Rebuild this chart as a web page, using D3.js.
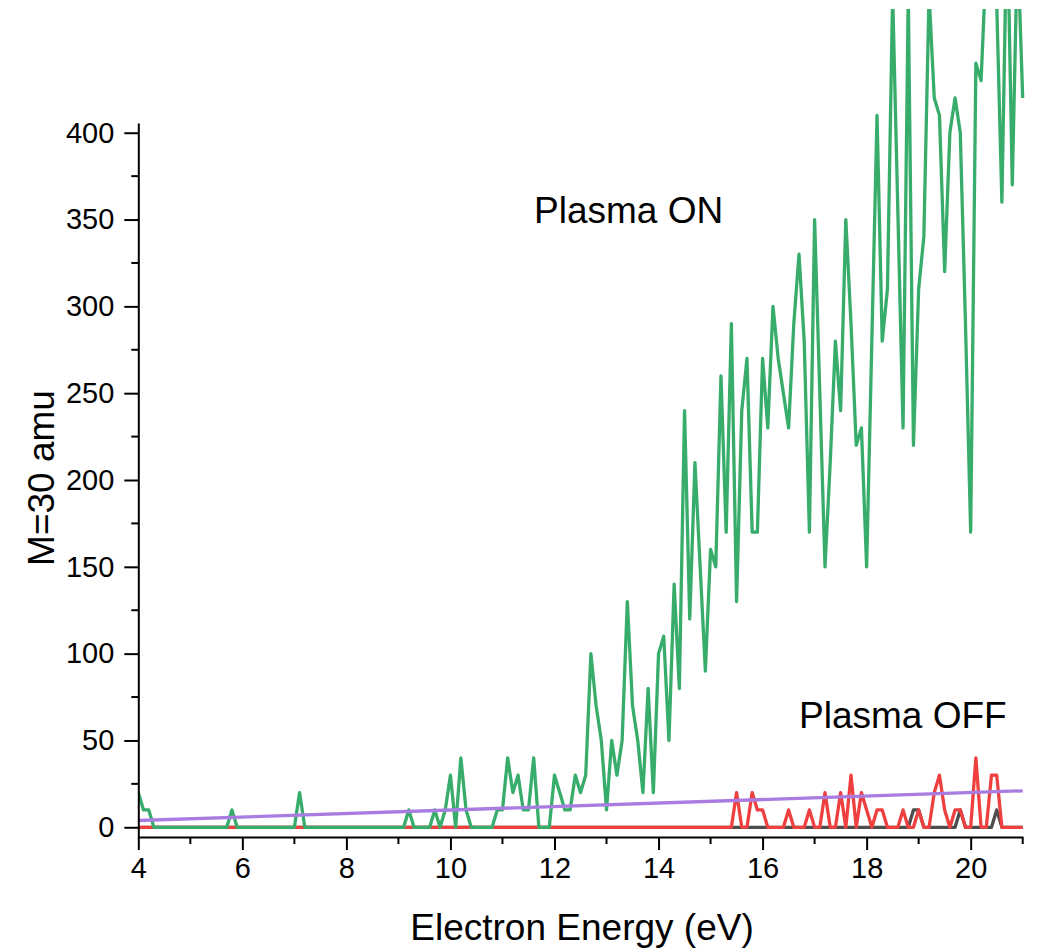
<!DOCTYPE html>
<html>
<head>
<meta charset="utf-8">
<script src="https://cdn.jsdelivr.net/npm/d3@7"></script>
<style>
  html, body { margin: 0; padding: 0; background: #fff; }
  svg { display: block; font-family: "Liberation Sans", Arial, sans-serif; }
</style>
</head>
<body>
<svg id="chart" width="1038" height="951"></svg>
<script>
// ---- data (x from 4.0 to 21.0 eV in 0.1 eV steps) ----
const energyStart = 4.0;
const energyStep = 0.1;

const plasmaOn = [
  20, 10, 10, 0, 0, 0, 0, 0, 0, 0, 0, 0, 0, 0, 0, 0, 0, 0,   // 4.0 - 5.7
  10, 0, 0, 0, 0, 0, 0, 0, 0, 0, 0, 0, 0,                     // 5.8 - 7.0
  20, 0, 0, 0, 0, 0, 0, 0, 0, 0, 0, 0, 0, 0, 0, 0, 0, 0, 0, 0, 0, // 7.1 - 9.1
  10, 0, 0, 0, 0, 10, 0, 10, 30, 0, 40, 10,                  // 9.2 - 10.3
  0, 0, 0, 0, 0, 10, 10, 40, 20, 30, 10, 10, 40, 0, 0, 0,    // 10.4 - 11.9
  30, 20, 10, 10, 30, 20, 30, 100, 70, 50,                   // 12.0 - 12.9
  10, 50, 30, 50, 130, 70, 50, 20, 80, 20,                   // 13.0 - 13.9
  100, 110, 50, 140, 80, 240, 120, 210, 150, 90,             // 14.0 - 14.9
  160, 150, 260, 170, 290, 130, 240, 270, 170, 170,          // 15.0 - 15.9
  270, 230, 300, 270, 250, 230, 290, 330, 280, 170,          // 16.0 - 16.9
  350, 250, 150, 210, 280, 240, 350, 290, 220, 230,          // 17.0 - 17.9
  150, 280, 410, 280, 310, 480, 355, 230, 480, 220,          // 18.0 - 18.9
  310, 340, 480, 420, 410, 320, 400, 420, 400, 290,          // 19.0 - 19.9
  170, 440, 430, 500, 550, 475, 360, 530, 370, 510,          // 20.0 - 20.9
  420                                                        // 21.0
];

// Plasma OFF (red): zero below 15.4 eV
const plasmaOffFrom154 = [
  0, 20, 0, 0, 20, 10,                       // 15.4 - 15.9
  10, 0, 0, 0, 0, 10, 0, 0, 0, 10,           // 16.0 - 16.9
  0, 0, 20, 0, 0, 20, 0, 30, 0, 20,          // 17.0 - 17.9
  10, 0, 10, 10, 0, 0, 0, 10, 0, 0,          // 18.0 - 18.9
  10, 0, 0, 20, 30, 10, 0, 10, 10, 0,        // 19.0 - 19.9
  0, 40, 0, 0, 30, 30, 0, 0, 0, 0,           // 20.0 - 20.9
  0                                          // 21.0
];

// background (black): nonzero points only
const backgroundX = [18.9, 19.0, 19.8, 20.5];
const backgroundY = [10, 10, 10, 10];

// purple straight line
const fitX = [4, 21];
const fitY = [3.9, 21.0];

const yMajorTicks = [0, 50, 100, 150, 200, 250, 300, 350, 400];
const yMinorTicks = [25, 75, 125, 175, 225, 275, 325, 375];
const xMajorTicks = [4, 6, 8, 10, 12, 14, 16, 18, 20];
const xMinorTicks = [5, 7, 9, 11, 13, 15, 17, 19, 21];

const labelOn = "Plasma ON";
const labelOff = "Plasma OFF";
const xTitle = "Electron Energy (eV)";
const yTitle = "M=30 amu";

// ---- build series ----
const nPts = plasmaOn.length;
const energies = d3.range(nPts).map(i => +(energyStart + i * energyStep).toFixed(1));
const onData = energies.map((e, i) => [e, plasmaOn[i]]);
const offData = energies.map(e => {
  const k = Math.round((e - 15.4) * 10);
  return [e, k >= 0 ? plasmaOffFrom154[k] : 0];
});
const bgData = energies.map(e => {
  const j = backgroundX.findIndex(b => Math.abs(b - e) < 1e-6);
  return [e, j >= 0 ? backgroundY[j] : 0];
});
const fitData = fitX.map((x, i) => [x, fitY[i]]);

// ---- scales ----
const svg = d3.select("#chart");
const x = d3.scaleLinear().domain([4, 21]).range([138.3, 1022.7]);
const y = d3.scaleLinear().domain([-5.6, 405.6]).range([837, 123]);

svg.append("rect").attr("width", 1038).attr("height", 951).attr("fill", "#fff");

svg.append("defs").append("clipPath").attr("id", "clip")
  .append("rect").attr("x", 138).attr("y", 9).attr("width", 890).attr("height", 828);

const line = d3.line().x(d => x(d[0])).y(d => y(d[1]));
const plot = svg.append("g").attr("clip-path", "url(#clip)");
const lw = 3.3;

plot.append("path").datum(bgData).attr("d", line)
  .attr("fill", "none").attr("stroke", "#4d4d4d").attr("stroke-width", lw).attr("stroke-linejoin", "round");
plot.append("path").datum(offData).attr("d", line)
  .attr("fill", "none").attr("stroke", "#ef4040").attr("stroke-width", lw).attr("stroke-linejoin", "round");
plot.append("path").datum(onData).attr("d", line)
  .attr("fill", "none").attr("stroke", "#38ad6b").attr("stroke-width", lw).attr("stroke-linejoin", "round");
plot.append("path").datum(fitData).attr("d", line)
  .attr("fill", "none").attr("stroke", "#a87ce0").attr("stroke-width", lw);

// ---- axes ----
const fontTick = 29;
const yAxis = d3.axisLeft(y).tickValues(yMajorTicks).tickSize(14).tickSizeOuter(0).tickPadding(10);
const gy = svg.append("g").attr("transform", "translate(138.3,0)").call(yAxis);
gy.append("g").selectAll("line").data(yMinorTicks).join("line")
  .attr("x1", 0).attr("x2", -7).attr("y1", d => y(d)).attr("y2", d => y(d))
  .attr("stroke", "#000").attr("stroke-width", 2);

const xAxis = d3.axisBottom(x).tickValues(xMajorTicks).tickSize(13).tickSizeOuter(0).tickPadding(7);
const gx = svg.append("g").attr("transform", "translate(0,837)").call(xAxis);
gx.append("g").selectAll("line").data(xMinorTicks).join("line")
  .attr("y1", 0).attr("y2", 7).attr("x1", d => x(d)).attr("x2", d => x(d))
  .attr("stroke", "#000").attr("stroke-width", 2);

[gx, gy].forEach(g => {
  g.select(".domain").attr("stroke", "#000").attr("stroke-width", 2);
  g.selectAll(".tick line").attr("stroke", "#000").attr("stroke-width", 2);
  g.selectAll(".tick text").attr("font-size", fontTick).attr("fill", "#000")
    .attr("font-family", '"Liberation Sans", Arial, sans-serif');
});

// ---- titles ----
svg.append("text").attr("x", 582).attr("y", 940).attr("text-anchor", "middle")
  .attr("font-size", 37).attr("fill", "#000").text(xTitle);
svg.append("text").attr("transform", "translate(54,478) rotate(-90)").attr("text-anchor", "middle")
  .attr("font-size", 37).attr("fill", "#000").text(yTitle);

// ---- annotations ----
svg.append("text").attr("x", 534).attr("y", 223).attr("font-size", 37).attr("fill", "#000").text(labelOn);
svg.append("text").attr("x", 799).attr("y", 728).attr("font-size", 37).attr("fill", "#000").text(labelOff);
</script>
</body>
</html>
